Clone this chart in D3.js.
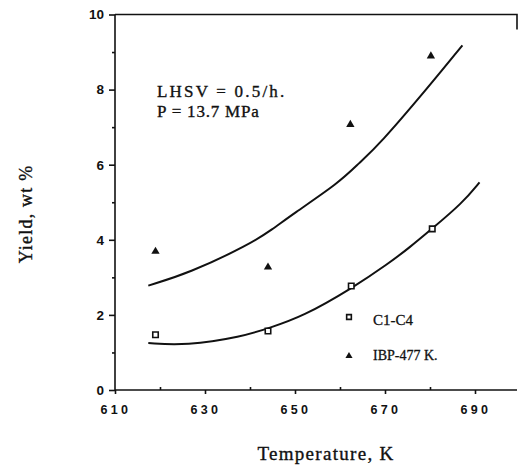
<!DOCTYPE html>
<html><head><meta charset="utf-8">
<script src="https://cdn.jsdelivr.net/npm/d3@7"></script>
<style>body{margin:0;background:#fff}svg{display:block}</style>
</head><body>
<script>
// Data
const tempC1C4 = [619, 644, 662.5, 680.5];
const yieldC1C4 = [1.47, 1.57, 2.77, 4.29];
const tempIBP = [619, 644, 662.3, 680.2];
const yieldIBP = [3.69, 3.27, 7.07, 8.89];
// fitted curves
const upperCurveT = [617.4, 626.4, 639.8, 644.9, 649.3, 659.8, 664.2, 668.7, 679.8, 687.2];
const upperCurveY = [2.78, 3.11, 3.87, 4.27, 4.67, 5.52, 6.04, 6.53, 8.09, 9.18];
const lowerCurveT = [617.4, 625.7, 638.3, 644.2, 651.6, 662.7, 670.9, 675.3, 680.4, 687.2, 691.0];
const lowerCurveY = [1.25, 1.18, 1.42, 1.65, 1.95, 2.71, 3.38, 3.78, 4.29, 4.98, 5.53];
const xTickLabels = [610, 630, 650, 670, 690];
const xMinorTicks = [620, 640, 660, 680];
const yTickLabels = [0, 2, 4, 6, 8, 10];
const yMinorTicks = [1, 3, 5, 7, 9];
const annotation = ["LHSV = 0.5/h.", "P = 13.7 MPa"];
const legendLabels = ["C1-C4", "IBP-477 K."];

const W = 519, H = 472;
const svg = d3.select("body").append("svg").attr("width", W).attr("height", H);
const x = d3.scaleLinear().domain([610, 700]).range([115, 520]);
const y = d3.scaleLinear().domain([0, 10]).range([390, 14.5]);
const ink = "#111";
const serif = "Liberation Serif, Times New Roman, serif";

// axes
const xAxis = svg.append("g").attr("transform", `translate(0,${y(0)})`)
  .call(d3.axisBottom(x).tickValues(xTickLabels).tickSize(4).tickFormat(""));
xAxis.select(".domain").attr("d", `M${x(610)},0H517`);
svg.append("g").attr("transform", `translate(0,${y(0)})`)
  .call(d3.axisTop(x).tickValues(xMinorTicks).tickSize(3).tickFormat(""))
  .select(".domain").remove();
const yAxis = svg.append("g").attr("transform", `translate(${x(610)},0)`)
  .call(d3.axisLeft(y).tickValues(yTickLabels).tickSize(6).tickFormat(""));
yAxis.select(".domain").attr("d", `M0,${y(10)}V${y(0)}`);
svg.append("g").attr("transform", `translate(${x(610)},0)`)
  .call(d3.axisLeft(y).tickValues(yMinorTicks).tickSize(3).tickFormat(""))
  .select(".domain").remove();
svg.selectAll(".domain, .tick line").attr("stroke", ink).attr("stroke-width", 1.6);

// top border and right corner fragment
svg.append("path").attr("d", `M${x(610)},${y(10)}H517V${y(9.6)}`)
  .attr("fill", "none").attr("stroke", ink).attr("stroke-width", 1.6);

// tick labels
svg.append("g").selectAll("text").data(xTickLabels).join("text")
  .attr("x", d => x(d) + 1).attr("y", 414)
  .attr("text-anchor", "middle")
  .attr("font-family", "Liberation Sans, Arial, sans-serif").attr("font-weight", "bold")
  .attr("font-size", 12.5).attr("letter-spacing", 3.3).attr("fill", ink)
  .text(d => d);
svg.append("g").selectAll("text").data(yTickLabels).join("text")
  .attr("x", 104).attr("y", d => y(d)).attr("dy", "0.36em")
  .attr("text-anchor", "end")
  .attr("font-family", "Liberation Sans, Arial, sans-serif").attr("font-weight", "bold")
  .attr("font-size", 13.5).attr("fill", ink)
  .text(d => d);

// axis titles
svg.append("text").attr("x", 326).attr("y", 460).attr("text-anchor", "middle")
  .attr("font-family", serif).attr("font-size", 19)
  .attr("letter-spacing", 1.3).attr("fill", ink).attr("stroke", ink).attr("stroke-width", 0.35)
  .text("Temperature, K");
svg.append("text").attr("transform", "translate(32,214) rotate(-90)").attr("text-anchor", "middle")
  .attr("font-family", serif).attr("font-size", 18)
  .attr("letter-spacing", 1.2).attr("fill", ink).attr("stroke", ink).attr("stroke-width", 0.35)
  .text("Yield, wt %");

// curves
const line = d3.line().x(d => x(d[0])).y(d => y(d[1])).curve(d3.curveBasis);
svg.append("path").datum(d3.zip(upperCurveT, upperCurveY)).attr("d", line)
  .attr("fill", "none").attr("stroke", ink).attr("stroke-width", 2);
svg.append("path").datum(d3.zip(lowerCurveT, lowerCurveY)).attr("d", line)
  .attr("fill", "none").attr("stroke", ink).attr("stroke-width", 2);

// markers
const tri = d3.symbol().type(d3.symbolTriangle).size(30);
const sq = d3.symbol().type(d3.symbolSquare).size(30);
svg.append("g").selectAll("path").data(d3.zip(tempIBP, yieldIBP)).join("path")
  .attr("transform", d => `translate(${x(d[0])},${y(d[1])})`).attr("d", tri).attr("fill", ink);
svg.append("g").selectAll("path").data(d3.zip(tempC1C4, yieldC1C4)).join("path")
  .attr("transform", d => `translate(${x(d[0])},${y(d[1])})`).attr("d", sq)
  .attr("fill", "#fff").attr("stroke", ink).attr("stroke-width", 1.6);

// annotation
svg.append("g").selectAll("text").data(annotation).join("text")
  .attr("x", 157).attr("y", (d, i) => 97 + i * 20)
  .attr("font-family", serif).attr("font-size", 17)
  .attr("letter-spacing", (d, i) => i === 0 ? 2.2 : 0.8).attr("fill", ink)
  .attr("stroke", ink).attr("stroke-width", 0.35).text(d => d);

// legend
const lg = svg.append("g");
lg.append("path").attr("transform", "translate(349,317)").attr("d", d3.symbol().type(d3.symbolSquare).size(22))
  .attr("fill", "#fff").attr("stroke", ink).attr("stroke-width", 1.6);
lg.append("path").attr("transform", "translate(349,356)").attr("d", d3.symbol().type(d3.symbolTriangle).size(22))
  .attr("fill", ink);
lg.selectAll("text").data(legendLabels).join("text")
  .attr("x", 373).attr("y", (d, i) => i === 0 ? 325 : 360)
  .attr("font-family", serif)
  .attr("font-size", (d, i) => i === 0 ? 15 : 14)
  .attr("fill", ink).attr("stroke", ink).attr("stroke-width", 0.3).text(d => d);
</script>
</body></html>
